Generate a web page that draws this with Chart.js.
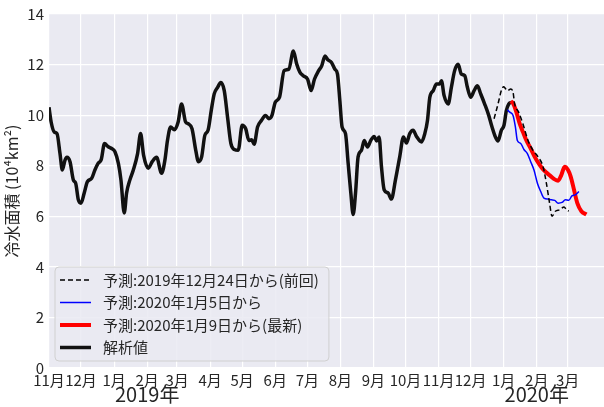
<!DOCTYPE html>
<html>
<head>
<meta charset="utf-8">
<script src="https://cdn.jsdelivr.net/npm/chart.js@4.4.1/dist/chart.umd.min.js"></script>
<style>
  html, body { margin: 0; padding: 0; background: #fff; }
</style>
</head>
<body>
<canvas id="chart" width="604" height="407"></canvas>
<script>
// days counted from 2018-11-01
const monthDays = [0, 30, 61, 92, 120, 151, 181, 212, 242, 273, 304, 334, 365, 395, 426, 457, 486];
const monthLabels = ["11月", "12月", "1月", "2月", "3月", "4月", "5月", "6月", "7月", "8月", "9月", "10月", "11月", "12月", "1月", "2月", "3月"];
const yearDays = [92, 457];
const yearLabels = ["2019年", "2020年"];

// 解析値
const analysisDays = [0, 2, 5, 7.5, 10.3, 12.5, 15, 16.8, 19.7, 22.8, 25, 27.5, 30, 33, 36, 40, 43, 46, 49, 52,
  55.5, 58.7, 61.8, 65, 67.4, 70.5, 72.7, 75.8, 79, 83, 85.8, 88.6, 93, 96.7, 100.8, 105.5, 108.6, 111, 114, 117.4,
  121, 124.2, 128, 130.5, 134, 137.5, 140, 143, 146, 149, 152, 154.8, 158, 161, 164.2, 167.3, 170.4, 173.6, 177.3, 181,
  184.3, 187.3, 189.8, 192.2, 195.4, 199, 202.8, 206, 208.9, 212, 216, 220.3, 224.7, 229, 232, 235, 238.2, 242.3, 245.6, 248.7,
  252.5, 255.5, 258.6, 261, 264.7, 267.8, 270.3, 272.5, 274.6, 277.8, 280.3, 282.8, 285, 287.2, 289.6, 292.8, 295.3, 298.4, 301.5, 304.6,
  307, 309.3, 311.5, 314, 317.7, 320.8, 324.6, 328.6, 332.1, 334.9, 338, 341.1, 344.3, 349, 352.1, 354.6, 356.8, 360, 363, 366,
  367.7, 370.2, 374, 377, 380, 383.3, 386.4, 389.5, 392, 395.1, 398.3, 401.4, 404.5, 408.2, 412, 415.1, 418.2, 420.7, 423.8, 426.3,
  428.5, 430.7, 433.2];
const analysisValues = [10.31, 9.73, 9.33, 9.27, 8.48, 7.83, 8.22, 8.33, 8.16, 7.44, 7.31, 6.65, 6.52, 6.92, 7.37, 7.5, 7.83, 8.09, 8.25, 8.88,
  8.75, 8.68, 8.55, 8.09, 7.44, 6.13, 6.92, 7.44, 7.83, 8.48, 9.27, 8.42, 7.9, 8.16, 8.33, 7.7, 8.22, 9.0, 9.53, 9.42,
  9.73, 10.44, 9.73, 9.66, 9.46, 8.61, 8.16, 8.35, 9.2, 9.4, 10.18, 10.84, 11.1, 11.29, 10.97, 9.92, 8.88, 8.64, 8.61, 9.6,
  9.46, 9.0, 9.03, 8.85, 9.53, 9.79, 9.99, 9.86, 9.99, 10.51, 10.71, 11.76, 11.82, 12.54, 12.03, 11.7, 11.56, 11.42, 10.97, 11.42,
  11.75, 11.95, 12.34, 12.2, 12.08, 11.82, 11.62, 10.58, 9.53, 9.27, 8.09, 6.92, 6.07, 6.92, 8.35, 8.61, 9.0, 8.74, 9.0, 9.16,
  8.98, 9.14, 7.96, 7.05, 6.92, 6.68, 7.44, 8.35, 9.14, 8.9, 9.27, 9.4, 9.16, 8.94, 9.27, 9.79, 10.71, 10.97, 11.23, 11.23,
  11.36, 10.77, 10.44, 11.1, 11.75, 12.01, 11.62, 11.56, 11.1, 10.71, 10.97, 11.16, 10.84, 10.44, 9.99, 9.53, 9.14, 8.98, 9.4, 9.6,
  10.18, 10.44, 10.51];

// 予測:2019年12月24日から(前回)
const prevDays = [417, 420.7, 423.8, 426, 429.5, 432.6, 434.8, 436.3, 440, 444, 448.8, 453.4, 458.2, 462.9, 466, 469, 471.3, 474.5, 478.5, 482.6, 484.7, 487];
const prevValues = [9.86, 10.44, 10.97, 11.12, 10.97, 11.03, 10.9, 10.44, 10.12, 9.66, 9.0, 8.61, 8.35, 7.96, 7.31, 6.52, 6.0, 6.2, 6.26, 6.37, 6.26, 6.2];

// 予測:2020年1月5日から
const jan5Days = [429.5, 431.7, 434.8, 437, 438.8, 442, 445, 448.2, 451.3, 454.4, 457.6, 460.7, 463.8, 467.6, 470.7, 473.8, 477, 480.7, 483.8, 487, 490, 493.1, 496.5];
const jan5Values = [10.21, 10.12, 9.99, 9.53, 9.0, 8.88, 8.64, 8.48, 8.16, 7.83, 7.31, 6.98, 6.72, 6.68, 6.65, 6.63, 6.52, 6.55, 6.65, 6.63, 6.81, 6.85, 6.98];

// 予測:2020年1月9日から(最新)
const jan9Days = [432.6, 434.8, 437.9, 441, 444.1, 447.3, 451.3, 455.1, 458.8, 462, 466, 470, 473.8, 477, 480, 483.1, 486.3, 488.8, 491.9, 495, 498.8, 503.5];
const jan9Values = [10.55, 10.47, 10.12, 9.66, 9.33, 9.0, 8.68, 8.35, 8.09, 7.9, 7.73, 7.59, 7.46, 7.41, 7.63, 7.96, 7.83, 7.57, 7.05, 6.52, 6.2, 6.07];

const FONT = '"Noto Sans CJK JP", "Noto Sans", sans-serif';
const TEXT = '#262626';

const toPoints = (xs, ys) => xs.map((x, i) => ({ x: x, y: ys[i] }));

const plotBackground = {
    id: "plotBackground",
    beforeDraw(chart) {
        const { ctx, chartArea: a } = chart;
        ctx.save();
        ctx.fillStyle = "#EAEAF2";
        ctx.fillRect(a.left, a.top, a.right - a.left, a.bottom - a.top);
        ctx.restore();
    },
};

const yearTitles = {
    id: "yearTitles",
    afterDraw(chart) {
        const { ctx } = chart;
        const xs = chart.scales.x;
        ctx.save();
        ctx.font = "20px " + FONT;
        ctx.fillStyle = TEXT;
        ctx.textAlign = "center";
        ctx.textBaseline = "middle";
        yearDays.forEach((d, i) => {
            ctx.fillText(yearLabels[i], xs.getPixelForValue(d), chart.chartArea.bottom + 26);
        });
        ctx.restore();
    },
};

const insideLegend = {
    id: "insideLegend",
    afterDraw(chart) {
        const { ctx, chartArea: a } = chart;
        const left = a.left + 6;
        const bottom = a.bottom - 7;
        const rowH = 22.5;
        const sets = chart.data.datasets;
        const top = bottom - rowH * sets.length - 4;
        ctx.save();
        ctx.font = "15px " + FONT;
        let w = 0;
        sets.forEach(ds => { w = Math.max(w, ctx.measureText(ds.label).width); });
        const width = w + 58;
        ctx.beginPath();
        ctx.roundRect(left, top, width, bottom - top, 4);
        ctx.fillStyle = "rgba(234,234,242,0.85)";
        ctx.fill();
        ctx.strokeStyle = "#D0D0D0";
        ctx.lineWidth = 1;
        ctx.stroke();
        sets.forEach((ds, i) => {
            const y = top + 13 + i * rowH;
            ctx.beginPath();
            ctx.setLineDash(ds.borderDash || []);
            ctx.strokeStyle = ds.borderColor;
            ctx.lineWidth = ds.borderWidth;
            ctx.moveTo(left + 5, y);
            ctx.lineTo(left + 36, y);
            ctx.stroke();
            ctx.setLineDash([]);
            ctx.fillStyle = TEXT;
            ctx.textBaseline = "middle";
            ctx.fillText(ds.label, left + 48, y);
        });
        ctx.restore();
    },
};

const lineStyle = { pointRadius: 0, fill: false, cubicInterpolationMode: "monotone" };

new Chart(document.getElementById("chart").getContext("2d"), {
    type: "line",
    data: {
        datasets: [
            { ...lineStyle, label: "予測:2019年12月24日から(前回)", data: toPoints(prevDays, prevValues), borderColor: "#000000", borderWidth: 1.5, borderDash: [5, 3] },
            { ...lineStyle, label: "予測:2020年1月5日から", data: toPoints(jan5Days, jan5Values), borderColor: "#0000FF", borderWidth: 1.5 },
            { ...lineStyle, label: "予測:2020年1月9日から(最新)", data: toPoints(jan9Days, jan9Values), borderColor: "#FF0000", borderWidth: 4 },
            { ...lineStyle, label: "解析値", data: toPoints(analysisDays, analysisValues), borderColor: "#111111", borderWidth: 3.5 },
        ],
    },
    options: {
        responsive: false,
        animation: false,
        layout: { padding: { top: 11, right: 0, bottom: 0, left: 0 } },
        plugins: { legend: { display: false }, tooltip: { enabled: false } },
        scales: {
            x: {
                type: "linear",
                min: 0,
                max: 520,
                afterBuildTicks: (scale) => { scale.ticks = monthDays.map(v => ({ value: v })); },
                afterFit: (scale) => { scale.height = 39; },
                ticks: {
                    autoSkip: false,
                    maxRotation: 0,
                    padding: 3,
                    color: TEXT,
                    font: { family: FONT, size: 15 },
                    callback: (v, i) => monthLabels[i],
                },
                grid: { color: "#FFFFFF", lineWidth: 1.2, drawTicks: false },
                border: { display: false },
            },
            y: {
                min: 0,
                max: 14,
                afterFit: (scale) => { scale.width = 49; },
                ticks: { stepSize: 2, padding: 5, color: TEXT, font: { family: FONT, size: 15 } },
                grid: { color: "#FFFFFF", lineWidth: 1.2, drawTicks: false },
                border: { display: false },
                title: {
                    display: true,
                    text: "冷水面積 (10⁴km²)",
                    color: TEXT,
                    font: { family: FONT, size: 16 },
                    padding: { top: 2, bottom: 0 },
                },
            },
        },
    },
    plugins: [plotBackground, yearTitles, insideLegend],
});
</script>
</body>
</html>
